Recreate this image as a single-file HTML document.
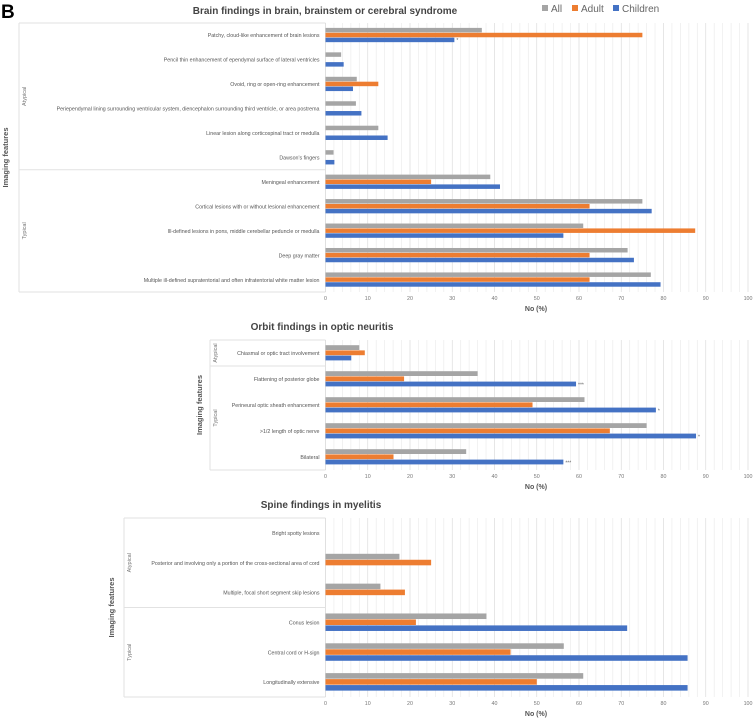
<!DOCTYPE html>
<html><head><meta charset="utf-8"><style>
html,body{margin:0;padding:0;background:#fff;}
svg{display:block;font-family:"Liberation Sans",sans-serif;}
</style></head><body>
<svg id="fig" width="755" height="720" viewBox="0 0 755 720">
<text x="1" y="18" font-size="19" font-weight="bold" fill="#000">B</text>
<text x="325" y="14" font-size="10" font-weight="bold" fill="#444" text-anchor="middle">Brain findings in brain, brainstem or cerebral syndrome</text>
<g>
<rect x="542" y="5" width="6" height="6" fill="#a5a5a5"/>
<text x="551" y="12" font-size="10" fill="#666">All</text>
<rect x="572" y="5" width="6" height="6" fill="#ed7d31"/>
<text x="581" y="12" font-size="10" fill="#666">Adult</text>
<rect x="613" y="5" width="6" height="6" fill="#4472c4"/>
<text x="622" y="12" font-size="10" fill="#666">Children</text>
</g>
</svg>
<script>
const brainCats=["Patchy, cloud-like enhancement of brain lesions","Pencil thin enhancement of ependymal surface of lateral ventricles","Ovoid, ring or open-ring enhancement","Periependymal lining surrounding ventricular system, diencephalon surrounding third ventricle, or area postrema","Linear lesion along corticospinal tract or medulla","Dawson's fingers","Meningeal enhancement","Cortical lesions with or without lesional enhancement","Ill-defined lesions in pons, middle cerebellar peduncle or medulla","Deep gray matter","Multiple ill-defined supratentorial and often infratentorial white matter lesion"];
const brainAll=[37,3.7,7.4,7.2,12.5,1.9,39,75,61,71.5,77];
const brainAdult=[75,0,12.5,0,0,0,25,62.5,87.5,62.5,62.5];
const brainChild=[30.5,4.3,6.5,8.5,14.7,2.1,41.3,77.2,56.3,73,79.3];
const brainStars=["*","","","","","","","","","",""];
const orbitCats=["Chiasmal or optic tract involvement","Flattening of posterior globe","Perineural optic sheath enhancement",">1/2 length of optic nerve","Bilateral"];
const orbitAll=[8,36,61.3,76,33.3];
const orbitAdult=[9.3,18.6,49,67.3,16.1];
const orbitChild=[6.1,59.3,78.2,87.7,56.3];
const orbitStars=["","***","*","*","***"];
const spineCats=["Bright spotty lesions","Posterior  and involving only a portion of the cross-sectional area of cord","Multiple, focal short segment skip lesions","Conus lesion","Central cord or H-sign","Longitudinally extensive"];
const spineAll=[0,17.5,13,38.1,56.4,61];
const spineAdult=[0,25,18.8,21.4,43.8,50];
const spineChild=[0,0,0,71.4,85.7,85.7];
const spineStars=["","","","","",""];
const tickVals=[0,10,20,30,40,50,60,70,80,90,100];

const NS="http://www.w3.org/2000/svg";
const svg=document.getElementById('fig');
function mk(tag,attrs,parent){const e=document.createElementNS(NS,tag);for(const k in attrs)e.setAttribute(k,attrs[k]);(parent||svg).appendChild(e);return e;}
const X0=325.5,X1=748;
function xs(v){return X0+(X1-X0)*v/100;}

function chart(o){
  const g=mk('g',{});
  
  
  const n=o.cats.length, pitch=(o.bottom-o.top)/n;
  for(let v=2;v<=100;v+=2){
    const l=mk('line',{x1:xs(v),x2:xs(v),y1:o.top,y2:o.bottom,stroke:v%10===0?'#dcdcdc':'#ececec','stroke-width':0.7},g);
    
    
  }
  mk('line',{x1:o.left,x2:X0,y1:o.top,y2:o.top,stroke:'#e2e2e2','stroke-width':1},g);
  mk('line',{x1:o.left,x2:X0,y1:o.bottom,y2:o.bottom,stroke:'#e2e2e2','stroke-width':1},g);
  mk('line',{x1:o.left,x2:o.left,y1:o.top,y2:o.bottom,stroke:'#e2e2e2','stroke-width':1},g);
  mk('line',{x1:X0,x2:X0,y1:o.top,y2:o.bottom,stroke:'#d9d9d9','stroke-width':0.8},g);
  const divY=o.top+pitch*o.nAtyp;
  mk('line',{x1:o.left,x2:X0,y1:divY,y2:divY,stroke:'#e2e2e2','stroke-width':1},g);
  const gx=o.left+7;
  [[ 'Atypical',(o.top+divY)/2],['Typical',(divY+o.bottom)/2]].forEach(([t,cy])=>{
    const tx=mk('text',{x:gx,y:cy,'font-size':5.5,fill:'#777','text-anchor':'middle',transform:`rotate(-90 ${gx} ${cy})`},g);
    tx.textContent=t;
    
    
  });
  const ix=o.ifX, iy=(o.top+o.bottom)/2;
  const it=mk('text',{x:ix,y:iy,'font-size':7.5,'font-weight':'bold',fill:'#555','text-anchor':'middle',transform:`rotate(-90 ${ix} ${iy})`},g);
  it.textContent='Imaging features';
  
  
  const bh=pitch*o.bf;
  const series=[[o.all,'#a5a5a5','all'],[o.adult,'#ed7d31','adult'],[o.child,'#4472c4','children']];
  for(let i=0;i<n;i++){
    const cy=o.top+pitch*(i+0.5);
    const lt=mk('text',{x:X0-6,y:cy+2,'font-size':5.3,fill:'#555','text-anchor':'end'},g);
    lt.textContent=o.cats[i];
    
    
    series.forEach(([arr,col,nm],s)=>{
      const y=cy-1.5*bh+s*bh;
      if(arr[i]>0){
        const r=mk('rect',{x:X0,y:y,width:xs(arr[i])-X0,height:bh-0.4,fill:col},g);
        
        
      }
    });
    if(o.stars[i]){
      const st=mk('text',{x:xs(o.child[i])+2,y:cy+1.5*bh-0.5,'font-size':5,fill:'#666'},g);
      st.textContent=o.stars[i];
      
      
    }
  }
  tickVals.forEach(v=>{
    const t=mk('text',{x:xs(v),y:o.bottom+8,'font-size':5.3,fill:'#777','text-anchor':'middle'},g);
    t.textContent=v;
    
    
  });
  const xt=mk('text',{x:536,y:o.bottom+19,'font-size':7,'font-weight':'bold',fill:'#555','text-anchor':'middle'},g);
  xt.textContent='No (%)';
  
  
  if(o.title){
    const tt=mk('text',{x:o.titleX,y:o.titleY,'font-size':10,'font-weight':'bold',fill:'#444','text-anchor':'middle'},g);
    tt.textContent=o.title;
    
    
  }
}
chart({name:'brain-chart',cats:brainCats,all:brainAll,adult:brainAdult,child:brainChild,stars:brainStars,top:23,bottom:292,left:19,nAtyp:6,ifX:8,bf:0.2});
chart({name:'orbit-chart',cats:orbitCats,all:orbitAll,adult:orbitAdult,child:orbitChild,stars:orbitStars,top:340,bottom:470,left:210,nAtyp:1,ifX:202,bf:0.2,title:'Orbit findings in optic neuritis',titleX:322,titleY:330});
chart({name:'spine-chart',cats:spineCats,all:spineAll,adult:spineAdult,child:spineChild,stars:spineStars,top:518,bottom:697,left:124,nAtyp:3,ifX:114,bf:0.2,title:'Spine findings in myelitis',titleX:321,titleY:508});
</script>
</body></html>
